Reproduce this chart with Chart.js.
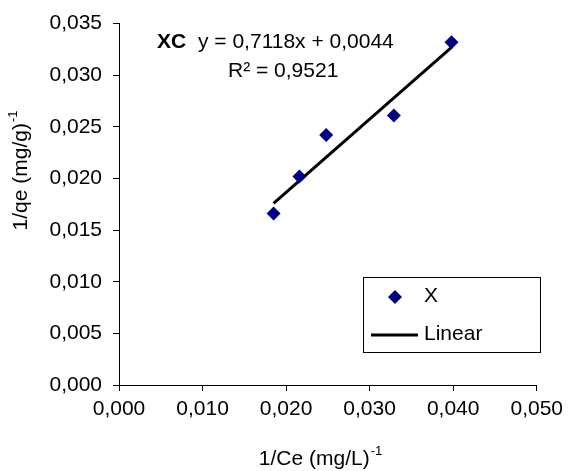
<!DOCTYPE html>
<html>
<head>
<meta charset="utf-8">
<script src="https://cdn.jsdelivr.net/npm/chart.js@4.4.0/dist/chart.umd.min.js"></script>
<style>
  html, body { margin: 0; padding: 0; background: #fff; }
  #wrap { width: 569px; height: 471px; }
</style>
</head>
<body>
<div id="wrap"><canvas id="isoChart" width="569" height="471"></canvas></div>
<script>
// measured points (1/Ce, 1/qe)
var xValues = [0.0185, 0.0216, 0.0248, 0.0329, 0.0398];
var yValues = [0.0166, 0.0202, 0.0242, 0.0261, 0.0332];
// trend line ends: y = 0,7118x + 0,0044
var trendX = [0.0185, 0.0398];
var trendY = [0.0176, 0.0327];
var xTicks = [0, 0.01, 0.02, 0.03, 0.04, 0.05];
var yTicks = [0, 0.005, 0.01, 0.015, 0.02, 0.025, 0.03, 0.035];

var FONT = 'Liberation Sans, Arial, sans-serif';
var SIZE = 21;
var NAVY = '#000080';

function fmt(v) {
  return v.toFixed(3).replace('.', ',');
}

function textWithSup(ctx, x, y, main, sup, size, align) {
  var supSize = Math.round(size * 0.6);
  ctx.font = size + 'px ' + FONT;
  var w1 = ctx.measureText(main).width;
  ctx.font = supSize + 'px ' + FONT;
  var w2 = ctx.measureText(sup).width;
  var start = align === 'center' ? x - (w1 + w2) / 2 : x;
  ctx.textAlign = 'left';
  ctx.textBaseline = 'middle';
  ctx.font = size + 'px ' + FONT;
  ctx.fillText(main, start, y);
  ctx.font = supSize + 'px ' + FONT;
  ctx.fillText(sup, start + w1 + 1, y - size * 0.38);
}

var extras = {
  id: 'extras',
  afterDraw: function (chart) {
    var ctx = chart.ctx;
    ctx.save();
    ctx.fillStyle = '#000';

    // axis titles
    textWithSup(ctx, 320, 459, '1/Ce (mg/L)', '-1', SIZE, 'center');
    ctx.save();
    ctx.translate(21, 171);
    ctx.rotate(-Math.PI / 2);
    textWithSup(ctx, 0, 0, '1/qe (mg/g)', '-1', SIZE, 'center');
    ctx.restore();

    // equation
    ctx.textAlign = 'left';
    ctx.textBaseline = 'middle';
    ctx.font = 'bold ' + SIZE + 'px ' + FONT;
    ctx.fillText('XC', 157, 42);
    ctx.font = SIZE + 'px ' + FONT;
    ctx.fillText('y = 0,7118x + 0,0044', 198, 42);
    ctx.fillText('R\u00B2 = 0,9521', 228, 71);

    // legend
    ctx.strokeStyle = '#000';
    ctx.lineWidth = 1;
    ctx.strokeRect(363.5, 277.5, 177, 75);
    ctx.fillStyle = NAVY;
    ctx.beginPath();
    ctx.moveTo(395, 290);
    ctx.lineTo(402, 297);
    ctx.lineTo(395, 304);
    ctx.lineTo(388, 297);
    ctx.closePath();
    ctx.fill();
    ctx.fillStyle = '#000';
    ctx.fillText('X', 424, 296);
    ctx.lineWidth = 3;
    ctx.beginPath();
    ctx.moveTo(371, 335);
    ctx.lineTo(418, 335);
    ctx.stroke();
    ctx.fillText('Linear', 424, 334);
    ctx.restore();
  }
};

var ctx = document.getElementById('isoChart').getContext('2d');
var chart = new Chart(ctx, {
  type: 'scatter',
  data: {
    datasets: [
      {
        label: 'X',
        data: xValues.map(function (x, i) { return { x: x, y: yValues[i] }; }),
        pointStyle: 'rectRot',
        pointRadius: 7,
        backgroundColor: NAVY,
        borderColor: NAVY,
        borderWidth: 0
      },
      {
        label: 'Linear',
        data: trendX.map(function (x, i) { return { x: x, y: trendY[i] }; }),
        showLine: true,
        pointRadius: 0,
        borderColor: '#000',
        borderWidth: 3
      }
    ]
  },
  options: {
    responsive: false,
    animation: false,
    layout: { padding: { left: 0, right: 28, top: 23, bottom: 0 } },
    plugins: {
      legend: { display: false },
      tooltip: { enabled: false }
    },
    scales: {
      x: {
        type: 'linear',
        min: 0,
        max: 0.05,
        afterBuildTicks: function (s) { s.ticks = xTicks.map(function (v) { return { value: v }; }); },
        afterFit: function (s) { s.height = 86; },
        border: { color: '#000', width: 1 },
        grid: { drawOnChartArea: false, drawTicks: true, tickLength: 6, color: '#000' },
        ticks: {
          color: '#000',
          font: { family: FONT, size: SIZE },
          padding: 6,
          maxRotation: 0,
          callback: function (v) { return fmt(v); }
        }
      },
      y: {
        type: 'linear',
        min: 0,
        max: 0.035,
        afterBuildTicks: function (s) { s.ticks = yTicks.map(function (v) { return { value: v }; }); },
        afterFit: function (s) { s.width = 119; },
        border: { color: '#000', width: 1 },
        grid: { drawOnChartArea: false, drawTicks: true, tickLength: 6, color: '#000' },
        ticks: {
          color: '#000',
          font: { family: FONT, size: SIZE },
          padding: 11,
          callback: function (v) { return fmt(v); }
        }
      }
    }
  },
  plugins: [extras]
});
</script>
</body>
</html>
